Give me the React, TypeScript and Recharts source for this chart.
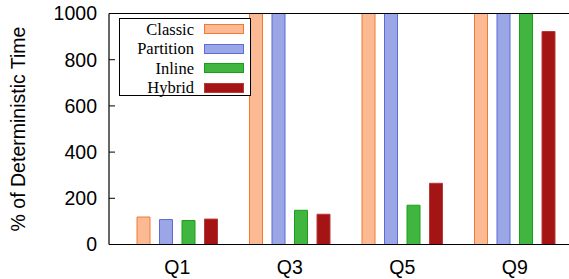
import React from "react";
import { BarChart, Bar, XAxis, YAxis, ReferenceLine, Legend } from "recharts";

const categories = ["Q1", "Q3", "Q5", "Q9"];
const classic = [119, 1000, 1000, 1000];
const partition = [108, 1000, 1000, 1000];
const inline = [104, 148, 170, 1000];
const hybrid = [110, 131, 265, 922];
const yTicks = [0, 200, 400, 600, 800, 1000];

const series = [
  { key: "Classic", values: classic, fill: "#fbb994", stroke: "#f57a30" },
  { key: "Partition", values: partition, fill: "#9ba6e6", stroke: "#5c6bd6" },
  { key: "Inline", values: inline, fill: "#40b640", stroke: "#18a018" },
  { key: "Hybrid", values: hybrid, fill: "#a51414", stroke: "#b83838" },
];

const data = categories.map((c, i) => {
  const row: Record<string, any> = { name: c };
  series.forEach((s) => (row[s.key] = s.values[i]));
  return row;
});

const FONT = "'Liberation Sans', Arial, sans-serif";

const LegendBox = () => (
  <div
    style={{
      position: "absolute",
      left: 0,
      top: 0,
      width: 130,
      height: 76,
      border: "1px solid #000",
      background: "#fff",
      boxSizing: "content-box",
    }}
  >
    {series.map((s, i) => (
      <div
        key={s.key}
        style={{
          position: "absolute",
          left: 0,
          top: 0.5 + i * 19.5,
          width: 130,
          height: 19.5,
        }}
      >
        <span
          style={{
            position: "absolute",
            right: 56,
            top: 0,
            lineHeight: "19.5px",
            fontFamily: "'Liberation Serif', 'Times New Roman', serif",
            fontSize: 16.5,
            color: "#000",
            whiteSpace: "nowrap",
          }}
        >
          {s.key}
        </span>
        <span
          style={{
            position: "absolute",
            left: 84,
            top: 4.5,
            width: 38,
            height: 8,
            background: s.fill,
            border: `1px solid ${s.stroke}`,
          }}
        />
      </div>
    ))}
  </div>
);

export default function App() {
  return (
    <div
      style={{
        position: "absolute",
        left: 0,
        top: 0,
        width: 569,
        height: 279,
        overflow: "hidden",
        background: "#fff",
      }}
    >
      <BarChart
        width={572}
        height={279}
        data={data}
        margin={{ top: 13.5, right: 1, left: 0, bottom: 4.5 }}
        barSize={13}
        barGap={9.5}
      >
        <XAxis
          dataKey="name"
          height={30}
          padding={{ left: 12, right: 0 }}
          tickLine={false}
          axisLine={{ stroke: "#000", strokeWidth: 1.2 }}
          tickMargin={10}
          tick={{ fill: "#000", fontSize: 19.5, fontFamily: FONT }}
        />
        <YAxis
          yAxisId="left"
          width={109}
          domain={[0, 1000]}
          ticks={yTicks}
          allowDataOverflow
          interval={0}
          tickSize={-6}
          tickMargin={18}
          axisLine={{ stroke: "#000", strokeWidth: 1.2 }}
          tickLine={{ stroke: "#000" }}
          tick={{ fill: "#000", fontSize: 19.5, fontFamily: FONT }}
          label={{
            content: () => (
              <text
                x={17.5}
                y={129}
                transform="rotate(-90 17.5 129)"
                textAnchor="middle"
                dominantBaseline="central"
                fontSize={19.5}
                fontFamily={FONT}
                fill="#000"
              >
                % of Deterministic Time
              </text>
            ),
          }}
        />
        <YAxis
          yAxisId="right"
          orientation="right"
          width={0}
          mirror
          domain={[0, 1000]}
          ticks={yTicks}
          allowDataOverflow
          tick={false}
          tickSize={5}
          axisLine={{ stroke: "#000" }}
          tickLine={{ stroke: "#000" }}
        />
        <ReferenceLine yAxisId="left" y={1000} stroke="#000" strokeWidth={1.2} />
        {series.map((s) => (
          <Bar
            key={s.key}
            yAxisId="left"
            dataKey={s.key}
            name={s.key}
            fill={s.fill}
            stroke={s.stroke}
            strokeWidth={1}
            isAnimationActive={false}
          />
        ))}
        <Legend
          layout="vertical"
          align="center"
          verticalAlign="middle"
          wrapperStyle={{ left: 119, top: 18, width: 132, height: 78 }}
          content={() => <LegendBox />}
        />
      </BarChart>
    </div>
  );
}
